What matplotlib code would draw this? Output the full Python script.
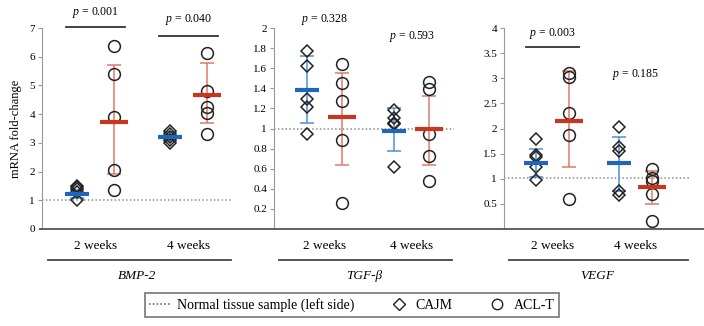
import matplotlib.pyplot as plt
from matplotlib.lines import Line2D
from matplotlib.ticker import FuncFormatter

plt.rcParams['font.family'] = ['Liberation Serif', 'DejaVu Serif']
plt.rcParams['mathtext.fontset'] = 'custom'
plt.rcParams['mathtext.rm'] = 'Liberation Serif'
plt.rcParams['mathtext.it'] = 'Liberation Serif:italic'

genes = ['BMP-2', 'TGF-\u03b2', 'VEGF']
weeks = ['2 weeks', '4 weeks']

# raw points per gene: [CAJM 2wk, ACL-T 2wk, CAJM 4wk, ACL-T 4wk]
bmp2_points = [[1.0, 1.3, 1.4, 1.45, 1.5],
               [6.37, 5.4, 3.9, 2.04, 1.37],
               [3.0, 3.1, 3.2, 3.3, 3.4],
               [6.14, 4.79, 4.26, 4.03, 3.31]]
tgfb_points = [[1.77, 1.62, 1.29, 1.21, 0.95],
               [1.64, 1.45, 1.27, 0.89, 0.26],
               [1.18, 1.10, 1.05, 1.04, 0.62],
               [1.46, 1.39, 0.95, 0.73, 0.48]]
vegf_points = [[1.80, 1.47, 1.43, 1.23, 0.97],
               [3.11, 3.03, 2.31, 1.87, 0.60],
               [2.02, 1.64, 1.56, 0.76, 0.68],
               [1.20, 1.01, 0.95, 0.70, 0.16]]

bmp2_mean = [1.22, 3.71, 3.22, 4.68]
bmp2_lo = [1.08, 1.90, 3.05, 3.68]
bmp2_hi = [1.36, 5.72, 3.38, 5.77]
tgfb_mean = [1.38, 1.11, 0.98, 1.00]
tgfb_lo = [1.05, 0.64, 0.78, 0.64]
tgfb_hi = [1.72, 1.55, 1.20, 1.32]
vegf_mean = [1.31, 2.14, 1.31, 0.83]
vegf_lo = [1.03, 1.24, 0.75, 0.49]
vegf_hi = [1.60, 3.14, 1.84, 1.16]

ref_level = [1.0, 1.0, 1.02]
y_max = [7, 2, 4]
y_step = [1, 0.2, 0.5]
y_min_tick = [0, 0.2, 0.5]

# p-values: (group index, value, y of text, y of bar or None)
p_values = [[(0, '0.001', 7.55, 7.05), (1, '0.040', 7.3, 6.72)],
            [(0, '0.328', 2.08, None), (1, '0.593', 1.92, None)],
            [(0, '0.003', 3.9, 3.62), (1, '0.185', 3.07, None)]]

points = [bmp2_points, tgfb_points, vegf_points]
means = [bmp2_mean, tgfb_mean, vegf_mean]
lows = [bmp2_lo, tgfb_lo, vegf_lo]
highs = [bmp2_hi, tgfb_hi, vegf_hi]

xpos = [1, 2, 3.5, 4.5]
blue_err = '#4b8fd6'
blue_mean = '#1f66b8'
red_err = '#de7a66'
red_mean = '#c8361e'

W, H = 704, 326
fig = plt.figure(figsize=(W / 100, H / 100), dpi=100)

# axes extents in pixels (left, right), pixel of first column, pixels per x unit
ax_px = [(42, 233), (274, 454), (504, 690)]
first_px = [77, 307, 536]
unit_px = [37.1, 34.9, 33.1]
bottom_px, top_px = 229, 28

for i, (l, r) in enumerate(ax_px):
    ax = fig.add_axes([l / W, (H - bottom_px) / H, (r - l) / W, (bottom_px - top_px) / H])
    u = unit_px[i]
    ax.set_xlim(1 - (first_px[i] - l) / u, 1 + (r - first_px[i]) / u)
    ax.set_ylim(0, y_max[i])

    ax.axhline(ref_level[i], ls=(0, (1, 1.5)), color='#8a8a8a', lw=1.1, zorder=1)

    for j, x in enumerate(xpos):
        is_cajm = j % 2 == 0
        pts = points[i][j]
        ax.plot([x] * len(pts), pts, ls='none',
                marker='D' if is_cajm else 'o',
                ms=6.5 if is_cajm else 8.5,
                mfc='none', mec='#222222', mew=1.1, zorder=3)
        m = means[i][j]
        ax.errorbar([x], [m], yerr=[[m - lows[i][j]], [highs[i][j] - m]],
                    fmt='none', ecolor=blue_err if is_cajm else red_err,
                    elinewidth=1.1, capsize=5, capthick=1.1, zorder=2)
        ax.plot([x], [m], marker='_', ms=17 if is_cajm else 20, mew=3,
                color=blue_mean if is_cajm else red_mean, zorder=4)

    for g, val, ty, by in p_values[i]:
        cx = (xpos[2 * g] + xpos[2 * g + 1]) / 2
        ax.text(cx, ty, '$p$ = ' + val, ha='center', va='center', fontsize=8.5,
                clip_on=False)
        if by is not None:
            ax.plot([xpos[2 * g] - 0.3, xpos[2 * g + 1] + 0.3], [by, by],
                    color='#333333', lw=1.3, clip_on=False)

    ticks = []
    t = y_min_tick[i]
    while t <= y_max[i] + 1e-9:
        ticks.append(round(t, 2))
        t += y_step[i]
    ax.set_yticks(ticks)
    ax.yaxis.set_major_formatter(FuncFormatter(lambda v, _: f'{v:g}'))
    ax.tick_params(axis='y', labelsize=8, length=3, color='#999999', pad=2)
    ax.tick_params(axis='x', bottom=False, labelbottom=False)
    for s in ['top', 'right', 'bottom']:
        ax.spines[s].set_visible(False)
    ax.spines['left'].set_color('#999999')
    ax.patch.set_alpha(0)

    # group labels below
    for g in range(2):
        cx = (xpos[2 * g] + xpos[2 * g + 1]) / 2
        ax.text(cx, -0.085, weeks[g], transform=ax.get_xaxis_transform(),
                ha='center', va='center', fontsize=9.5, clip_on=False)
    x0, x1 = ax.get_xlim()
    ax.plot([x0 + 0.15, x1 - 0.05], [-0.155, -0.155], transform=ax.get_xaxis_transform(),
            color='#444444', lw=1.3, clip_on=False)
    ax.text((x0 + x1) / 2, -0.235, genes[i], transform=ax.get_xaxis_transform(),
            ha='center', va='center', fontsize=9.5, style='italic', clip_on=False)

    if i == 0:
        ax.set_ylabel('mRNA fold-change', fontsize=9, labelpad=5)

# continuous baseline across panels
fig.add_artist(Line2D([40 / W, 1.0], [(H - bottom_px) / H] * 2, color='#555555', lw=1.3))

handles = [Line2D([], [], ls=(0, (1, 1.5)), color='#555555', lw=1.1),
           Line2D([], [], ls='none', marker='D', ms=6, mfc='none', mec='#222222'),
           Line2D([], [], ls='none', marker='o', ms=7.5, mfc='none', mec='#222222')]
labels = ['Normal tissue sample (left side)', 'CAJM', 'ACL-T']
leg = fig.legend(handles, labels, loc='center', bbox_to_anchor=(352 / W, (H - 305) / H),
                 ncol=3, fontsize=10, frameon=True, fancybox=False, handlelength=1.6,
                 handletextpad=0.4, columnspacing=2.4, borderpad=0.35, borderaxespad=0)
leg.get_frame().set_edgecolor('#555555')
leg.get_frame().set_linewidth(1.2)

fig.savefig('out.png', dpi=100)
